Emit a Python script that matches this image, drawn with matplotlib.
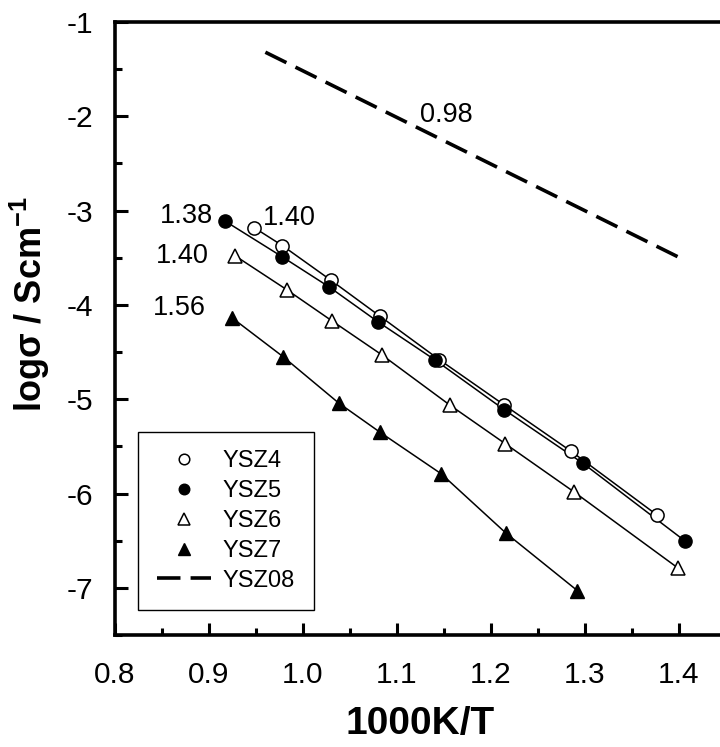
import matplotlib
matplotlib.use("Agg")
import matplotlib.pyplot as plt

plt.rcParams["font.family"] = ["Liberation Sans", "DejaVu Sans"]
plt.rcParams["mathtext.fontset"] = "custom"
plt.rcParams["mathtext.rm"] = "Liberation Sans"
plt.rcParams["mathtext.bf"] = "Liberation Sans:bold"

# values (x = 1000K/T, y = log sigma)
ysz4_x = [0.948, 0.978, 1.030, 1.082, 1.145, 1.214, 1.285, 1.377]
ysz4_y = [-3.18, -3.37, -3.74, -4.12, -4.58, -5.06, -5.55, -6.23]

ysz5_x = [0.917, 0.978, 1.028, 1.080, 1.140, 1.214, 1.298, 1.406]
ysz5_y = [-3.11, -3.49, -3.81, -4.18, -4.58, -5.11, -5.68, -6.50]

ysz6_x = [0.928, 0.983, 1.031, 1.084, 1.156, 1.215, 1.288, 1.399]
ysz6_y = [-3.48, -3.84, -4.17, -4.53, -5.06, -5.47, -5.98, -6.79]

ysz7_x = [0.925, 0.979, 1.038, 1.082, 1.147, 1.216, 1.292]
ysz7_y = [-4.14, -4.55, -5.04, -5.35, -5.79, -6.42, -7.03]

ysz08_x = [0.960, 1.403]
ysz08_y = [-1.32, -3.51]

# activation energy labels (eV)
ea_labels = ["1.38", "1.40", "1.40", "1.56", "0.98"]
ea_x = [0.876, 0.985, 0.872, 0.869, 1.152]
ea_y = [-3.06, -3.08, -3.48, -4.03, -1.99]

fig = plt.figure(figsize=(7.2, 7.47), dpi=100)
ax = fig.add_axes([0.1597, 0.1499, 0.8486, 0.8206])

# connecting lines
for xs, ys in [(ysz4_x, ysz4_y), (ysz5_x, ysz5_y), (ysz6_x, ysz6_y), (ysz7_x, ysz7_y)]:
    ax.plot(xs, ys, "-", color="black", lw=1.1, zorder=2)

ax.plot(ysz4_x, ysz4_y, "o", ms=9.5, mfc="white", mec="black", mew=1.1,
        label="YSZ4", zorder=3)
ax.plot(ysz5_x, ysz5_y, "o", ms=9.5, mfc="black", mec="black",
        label="YSZ5", zorder=4)
ax.plot(ysz6_x, ysz6_y, "^", ms=10.5, mfc="white", mec="black", mew=1.1,
        label="YSZ6", zorder=3)
ax.plot(ysz7_x, ysz7_y, "^", ms=10.5, mfc="black", mec="black",
        label="YSZ7", zorder=3)
ax.plot(ysz08_x, ysz08_y, color="black", lw=2.6, dashes=(6.5, 2.8),
        label="YSZ08", zorder=2)

for txt, tx, ty in zip(ea_labels, ea_x, ea_y):
    ax.text(tx, ty, txt, fontsize=19.5, ha="center", va="center")

ax.set_xlim(0.8, 1.45)
ax.set_ylim(-7.5, -1)
ax.set_xticks([0.8, 0.9, 1.0, 1.1, 1.2, 1.3, 1.4])
ax.set_xticklabels(["0.8", "0.9", "1.0", "1.1", "1.2", "1.3", "1.4"])
ax.set_xticks([0.85, 0.95, 1.05, 1.15, 1.25, 1.35], minor=True)
ax.set_yticks([-7, -6, -5, -4, -3, -2, -1])
ax.set_yticklabels(["-7", "-6", "-5", "-4", "-3", "-2", "-1"])
ax.set_yticks([-7.5, -6.5, -5.5, -4.5, -3.5, -2.5, -1.5], minor=True)

ax.tick_params(which="both", direction="in", top=False, right=False,
               width=2.2, labelsize=21.5)
ax.tick_params(axis="x", pad=19)
ax.tick_params(axis="y", pad=16)
ax.tick_params(which="major", length=9)
ax.tick_params(which="minor", length=5)
ax.spines["left"].set_linewidth(2.6)
ax.spines["bottom"].set_linewidth(2.6)
ax.spines["top"].set_linewidth(2.6)
ax.spines["right"].set_visible(False)

ax.set_xlabel("1000K/T", fontsize=28, fontweight="bold", labelpad=12)
ax.set_ylabel(r"logσ / Scm$^{\mathbf{-1}}$", fontsize=26, fontweight="bold")
ax.yaxis.set_label_coords(-0.103, 0.54)

leg = ax.legend(loc="upper left", bbox_to_anchor=(0.0376, 0.332),
                borderaxespad=0, fontsize=17, fancybox=False, framealpha=1,
                edgecolor="black", markerscale=0.8, handlelength=2.3,
                handletextpad=0.5, labelspacing=0.33, borderpad=0.8)
leg.get_frame().set_linewidth(1.0)

fig.savefig("out.png", dpi=100)
